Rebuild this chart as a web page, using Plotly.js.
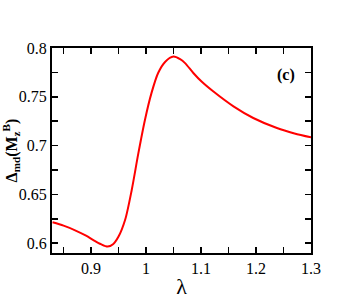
<!DOCTYPE html>
<html>
<head>
<meta charset="utf-8">
<script src="https://cdn.plot.ly/plotly-3.0.1.min.js"></script>
<style>
  html, body { margin: 0; padding: 0; background: #fff; }
  #grafico { width: 338px; height: 299px; }
</style>
</head>
<body>
<div id="grafico"></div>
<script>
// lambda values and Delta_md(M_z^B)
const lambdaVals = [0.83, 0.85, 0.87, 0.89, 0.905, 0.918, 0.93, 0.94, 0.95, 0.962,
  0.974, 0.986, 0.998, 1.010, 1.022, 1.035, 1.050, 1.062, 1.071, 1.086,
  1.101, 1.122, 1.159, 1.195, 1.238, 1.270, 1.3];
const deltaVals = [0.6215, 0.618, 0.6135, 0.608, 0.603, 0.599, 0.5966, 0.599, 0.6068, 0.624,
  0.6546, 0.692, 0.7263, 0.754, 0.7744, 0.786, 0.7912, 0.7885, 0.7845, 0.7744,
  0.7656, 0.7556, 0.7402, 0.7283, 0.718, 0.7125, 0.7085];

const xTicks = [0.9, 1, 1.1, 1.2, 1.3];
const xTickText = ['0.9', '1', '1.1', '1.2', '1.3'];
const yTicks = [0.6, 0.65, 0.7, 0.75, 0.8];
const yTickText = ['0.6', '0.65', '0.7', '0.75', '0.8'];

const serif = 'Times New Roman, Liberation Serif, DejaVu Serif, serif';

const eje = {
  showline: true, linecolor: '#000', linewidth: 2, mirror: 'ticks',
  ticks: 'inside', ticklen: 6, tickwidth: 1.5, tickcolor: '#000',
  showgrid: false, zeroline: false,
  tickfont: { family: serif, size: 16, color: '#000' }
};

const layout = {
  width: 338, height: 299,
  margin: { l: 52, r: 27, t: 48, b: 46 },
  paper_bgcolor: '#fff', plot_bgcolor: '#fff',
  font: { family: serif, color: '#000' },
  showlegend: false,
  xaxis: Object.assign({}, eje, {
    range: [0.829, 1.3],
    tickvals: xTicks, ticktext: xTickText,
    minor: { dtick: 0.05, tick0: 0.85, ticks: 'inside', ticklen: 6, tickwidth: 1.5, tickcolor: '#000' },
    title: { text: 'λ', font: { family: serif, size: 22, color: '#000' }, standoff: 2 }
  }),
  yaxis: Object.assign({}, eje, {
    range: [0.59, 0.8],
    tickvals: yTicks, ticktext: yTickText,
    minor: { dtick: 0.025, tick0: 0.6, ticks: 'inside', ticklen: 6, tickwidth: 1.5, tickcolor: '#000' },
    title: { text: '<b>Δ<sub>md</sub>(M<sub>z</sub><sup>B</sup>)</b>', font: { family: serif, size: 16, color: '#000' }, standoff: 2 }
  }),
  annotations: [{
    text: '<b>(c)</b>', xref: 'paper', yref: 'paper', x: 0.905, y: 0.87,
    xanchor: 'center', yanchor: 'middle', showarrow: false,
    font: { family: serif, size: 16, color: '#000' }
  }]
};

Plotly.newPlot('grafico', [{
  x: lambdaVals, y: deltaVals, mode: 'lines',
  line: { color: '#ff0000', width: 2, shape: 'spline', smoothing: 0.8 }
}], layout, { displayModeBar: false, staticPlot: true });
</script>
</body>
</html>
